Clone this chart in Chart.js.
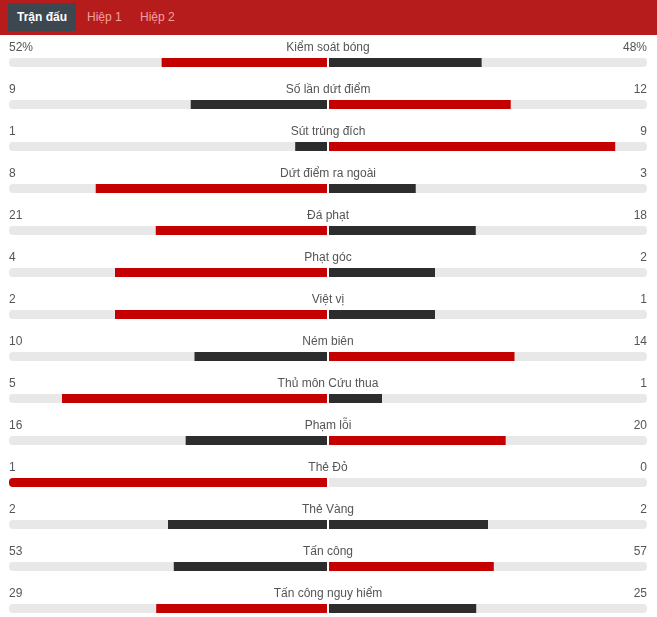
<!DOCTYPE html>
<html>
<head>
<meta charset="utf-8">
<script src="https://cdn.jsdelivr.net/npm/chart.js@4.4.1/dist/chart.umd.min.js"></script>
<style>
  html, body { margin: 0; padding: 0; background: #fff; }
  body { width: 657px; height: 617px; overflow: hidden; font-family: "Liberation Sans", Arial, sans-serif; }
  .tabs { height: 35px; background: #b71c1c; position: relative; }
  .tab { position: absolute; top: 3px; height: 28px; line-height: 28px; font-size: 12px; color: #f3a0a0; }
  .tab.active { left: 8px; width: 68px; background: #3c4750; color: #fff; font-weight: bold; text-align: center; }
  #wrap { width: 657px; height: 582px; }
</style>
</head>
<body>
<div class="tabs">
  <div class="tab active">Trận đấu</div>
  <div class="tab" style="left:87px">Hiệp 1</div>
  <div class="tab" style="left:140px">Hiệp 2</div>
</div>
<div id="wrap"><canvas id="stats" width="657" height="582"></canvas></div>
<script>
// thống kê trận đấu: đội nhà (trái) / đội khách (phải)
const categories = [
  "Kiểm soát bóng", "Số lần dứt điểm", "Sút trúng đích", "Dứt điểm ra ngoài",
  "Đá phạt", "Phạt góc", "Việt vị", "Ném biên", "Thủ môn Cứu thua",
  "Phạm lỗi", "Thẻ Đỏ", "Thẻ Vàng", "Tấn công", "Tấn công nguy hiểm"
];
const homeValues = [52, 9, 1, 8, 21, 4, 2, 10, 5, 16, 1, 2, 53, 29];
const awayValues = [48, 12, 9, 3, 18, 2, 1, 14, 1, 20, 0, 2, 57, 25];
const suffixes = ["%", "", "", "", "", "", "", "", "", "", "", "", "", ""];

const RED = "#c40000";
const DARK = "#2d2d2d";
const GREY = "#e8e8e8";
const GAP = 1 / 319;

const share = (v, other) => (v + other ? v / (v + other) : 0);
const homeShare = homeValues.map((v, i) => share(v, awayValues[i]));
const awayShare = awayValues.map((v, i) => share(v, homeValues[i]));
const homeColors = homeValues.map((v, i) => (v > awayValues[i] ? RED : DARK));
const awayColors = awayValues.map((v, i) => (v > homeValues[i] ? RED : DARK));

// độ dài thanh tính từ khe giữa ra mép ngoài
const reach = (s) => GAP + s * (1 - GAP);

const leftRound = { topLeft: 4, bottomLeft: 4, topRight: 0, bottomRight: 0 };
const rightRound = { topLeft: 0, bottomLeft: 0, topRight: 4, bottomRight: 4 };
const noRound = { topLeft: 0, bottomLeft: 0, topRight: 0, bottomRight: 0 };

const common = {
  grouped: false,
  barThickness: 9,
  borderSkipped: false,
  borderWidth: 0,
  inflateAmount: 0,
  clip: false,
};

const statLabels = {
  id: "statLabels",
  afterDatasetsDraw(chart) {
    const { ctx, chartArea, scales } = chart;
    const cx = scales.x.getPixelForValue(0);
    ctx.save();
    ctx.font = '12px "Liberation Sans", Arial, sans-serif';
    ctx.fillStyle = "#555";
    ctx.textBaseline = "middle";
    categories.forEach((name, i) => {
      const y = scales.y.getPixelForValue(i) - 15;
      ctx.textAlign = "left";
      ctx.fillText(homeValues[i] + suffixes[i], chartArea.left, y);
      ctx.textAlign = "center";
      ctx.fillText(name, cx, y);
      ctx.textAlign = "right";
      ctx.fillText(awayValues[i] + suffixes[i], chartArea.right, y);
    });
    ctx.restore();
  },
};

new Chart(document.getElementById("stats"), {
  type: "bar",
  data: {
    labels: categories,
    datasets: [
      {
        ...common,
        label: "Đội nhà",
        data: homeShare.map((s) => (s > 0 ? [-reach(s), -GAP] : null)),
        backgroundColor: homeColors,
        borderRadius: (c) => (homeShare[c.dataIndex] >= 1 ? leftRound : noRound),
        order: 1,
      },
      {
        ...common,
        label: "Đội khách",
        data: awayShare.map((s) => (s > 0 ? [GAP, reach(s)] : null)),
        backgroundColor: awayColors,
        borderRadius: (c) => (awayShare[c.dataIndex] >= 1 ? rightRound : noRound),
        order: 1,
      },
      {
        ...common,
        label: "nền trái",
        data: categories.map(() => [-1, -GAP]),
        backgroundColor: GREY,
        borderRadius: leftRound,
        order: 2,
      },
      {
        ...common,
        label: "nền phải",
        data: categories.map(() => [GAP, 1]),
        backgroundColor: GREY,
        borderRadius: rightRound,
        order: 2,
      },
    ],
  },
  options: {
    indexAxis: "y",
    responsive: false,
    animation: false,
    devicePixelRatio: 1,
    layout: { padding: { left: 9, right: 10, top: 27.5, bottom: 8.5 } },
    plugins: { legend: { display: false }, tooltip: { enabled: false } },
    scales: {
      x: { type: "linear", min: -1, max: 1, display: false },
      y: { type: "category", offset: false, display: false },
    },
  },
  plugins: [statLabels],
});
</script>
</body>
</html>
